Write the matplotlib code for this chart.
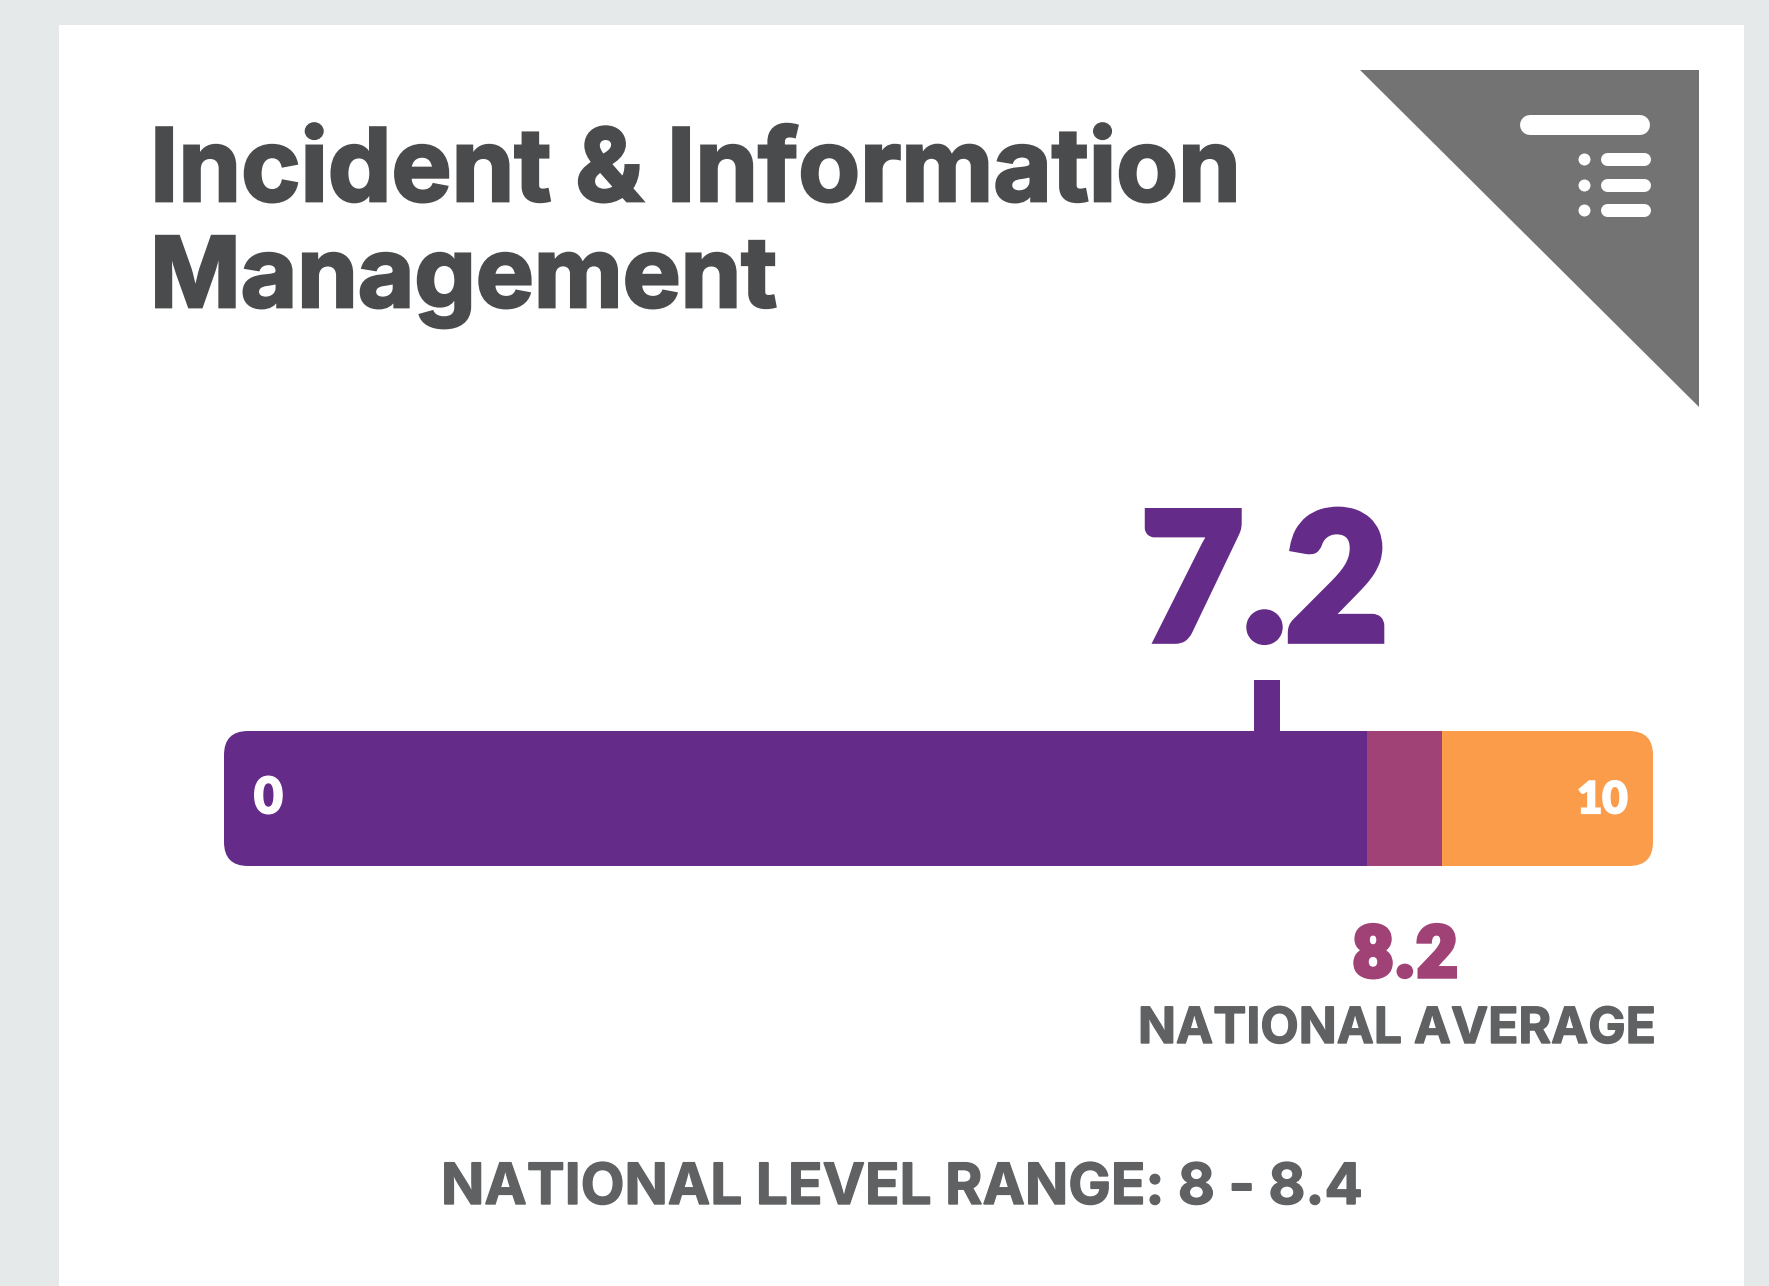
import matplotlib
matplotlib.use("Agg")
import matplotlib.pyplot as plt
import matplotlib.patheffects as pe
from matplotlib.patches import FancyBboxPatch, Polygon, Rectangle

plt.rcParams["text.hinting"] = "no_hinting"
plt.rcParams["text.hinting_factor"] = 1

W, H = 1769, 1286
title_lines = ["Incident & Information", "Management"]
score_label = "7.2"
average_label = "8.2"
average_caption = "NATIONAL AVERAGE"
range_caption = "NATIONAL LEVEL RANGE: 8 - 8.4"
axis_labels = ["0", "10"]
segment_ends = [8.0, 8.52, 10.0]
segment_colors = ["#642b89", "#a04275", "#fb9c4a"]
score_position = [7.3]

PURPLE, MAGENTA = "#642b89", "#a04275"
DARK, GREY = "#4a4b4c", "#5f6162"

fig = plt.figure(figsize=(W / 100, H / 100), dpi=100, facecolor="#e5e9e9")
ov = fig.add_axes([0, 0, 1, 1])
ov.set_xlim(0, W); ov.set_ylim(H, 0); ov.axis("off")

ov.add_patch(Rectangle((59, 25), 1685, H, fc="white", ec="none"))
ov.add_patch(Polygon([(1360, 70), (1699, 70), (1699, 407)], closed=True, fc="#737373", ec="none"))


def pill(x0, x1, yc, h):
    ov.plot([x0 + h / 2, x1 - h / 2], [yc, yc], color="white", lw=h * 0.72, solid_capstyle="round")


pill(1520, 1650, 125, 20)
for yc in (159, 185, 210):
    pill(1600, 1650, yc, 13)
    ov.plot([1584], [yc], "o", color="white", ms=12 * 0.72, mew=0)

# bar track
L, R, T, B = 224, 1653, 731, 866
ax = fig.add_axes([L / W, 1 - B / H, (R - L) / W, (B - T) / H])
ax.set_xlim(0, 10); ax.set_ylim(0, 1); ax.axis("off")
RAD = 24
clip = FancyBboxPatch((L + RAD, T + RAD), R - L - 2 * RAD, B - T - 2 * RAD,
                      boxstyle=f"round,pad={RAD},rounding_size={RAD}", transform=ov.transData, fc="none", ec="none")
ov.add_patch(clip)
left = 0.0
for end, c in zip(segment_ends, segment_colors):
    bar = ax.barh(0.5, end - left, left=left, height=1.0, color=c, linewidth=0)[0]
    bar.set_clip_path(clip)
    left = end

# score tick above the track
ax.bar(score_position, 0.38, width=26 / (R - L) * 10, bottom=1.0, color=PURPLE, linewidth=0, clip_on=False)

top = fig.add_axes([0, 0, 1, 1])
top.set_xlim(0, W); top.set_ylim(H, 0); top.axis("off")
renderer = fig.canvas.get_renderer()


def fit(s, x0, x1, base, color, family="Inter", weight="bold", stroke=0):
    t = top.text(x0, base, s, family=family, weight=weight, color=color, fontsize=40, va="baseline", ha="left")
    bb = t.get_window_extent(renderer)
    t.set_fontsize(40 * (x1 - x0) / bb.width)
    bb = t.get_window_extent(renderer)
    t.set_x(x0 - (bb.x0 - x0))
    if stroke:
        t.set_path_effects([pe.withStroke(linewidth=stroke, foreground=color, joinstyle="miter")])
    return t


fit(title_lines[0], 150, 1241, 201, DARK, stroke=2)
fit(title_lines[1], 150, 777, 307, DARK, stroke=2)
fit(score_label, 1141, 1390, 640, PURPLE, "Lato", "black", stroke=5.5)
fit(average_label, 1352, 1459, 977, MAGENTA, "Roboto", "black", stroke=2.5)
fit(average_caption, 1138, 1656, 1043, GREY, stroke=1.0)
fit(range_caption, 441, 1363, 1204, GREY, stroke=1.0)
fit(axis_labels[0], 254, 283, 813, "white", "Lato", "black", stroke=1.6)
fit(axis_labels[1], 1577, 1628, 813, "white", "Lato", "black", stroke=1.6)

fig.savefig("out.png", dpi=100, facecolor=fig.get_facecolor())
